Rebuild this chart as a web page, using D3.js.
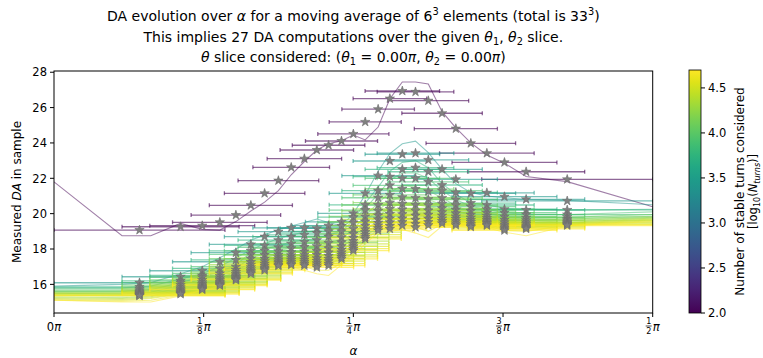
<!DOCTYPE html>
<html>
<head>
<meta charset="utf-8">
<script src="https://cdn.jsdelivr.net/npm/d3@7"></script>
<style>
  body { margin: 0; background: #fff; }
  svg { display: block; }
  text { font-family: "DejaVu Sans", sans-serif; fill: #000; white-space: pre; }
</style>
</head>
<body>
<svg id="chart" width="763" height="358"></svg>
<script>
// Moving-average window centres in alpha (units of pi) and their half widths
const alphaStar = [0.0714,0.1057,0.1238,0.1385,0.1519,0.1644,0.1759,0.1874,0.1981,0.2091,0.2195,0.2293,0.2401,0.25,0.2599,0.2707,0.2805,0.2909,0.3019,0.3126,0.3241,0.3356,0.3481,0.3615,0.3762,0.3943,0.4286];
const alphaHalf = [0.0714,0.0489,0.0438,0.0395,0.0374,0.0347,0.0336,0.0337,0.0320,0.0311,0.0307,0.0303,0.0301,0.0297,0.0301,0.0303,0.0307,0.0311,0.0320,0.0337,0.0336,0.0347,0.0374,0.0395,0.0438,0.0489,0.0714];
// Alpha positions of the raw DA curves (units of pi)
const lineAlpha = [0,0.0568,0.0808,0.1057,0.1238,0.1385,0.1519,0.1644,0.1759,0.1874,0.1981,0.2091,0.2195,0.2293,0.2401,0.25,0.2599,0.2707,0.2805,0.2909,0.3019,0.3126,0.3241,0.3356,0.3481,0.3615,0.3762,0.3943,0.4286,0.5];

// Number of turns of each series
const nTurns = [100, 2750, 5370, 7940, 11200, 14800, 19100, 23400, 28800, 34700, 41700, 50000];

// Averaged DA for each series (one value per window)
const starsN100   = [19.07,19.26,19.32,19.51,19.92,20.47,21.15,21.87,22.62,23.11,23.60,23.87,24.11,24.51,25.19,25.91,26.51,26.94,26.89,26.39,25.68,24.81,23.98,23.42,22.90,22.37,21.94];
const starsN2750  = [16.09,16.43,16.77,17.28,17.79,18.26,18.70,18.98,19.20,19.20,19.17,19.32,19.54,20.02,21.15,22.15,22.98,23.36,23.42,23.04,22.51,21.94,21.15,21.18,20.96,20.81,20.72];
const starsN5370  = [15.85,16.20,16.50,16.90,17.38,17.90,18.20,18.50,18.70,18.80,18.90,19.00,19.30,19.80,20.50,21.30,22.09,22.51,22.60,22.37,21.62,21.20,20.60,20.49,20.25,20.21,20.21];
const starsN7940  = [15.75,16.10,16.40,16.62,17.00,17.70,17.90,18.10,18.30,18.40,18.50,18.70,19.00,19.50,20.20,20.90,21.60,22.00,22.00,21.80,21.30,20.80,20.40,20.25,20.05,19.95,19.95];
const starsN11200 = [15.66,15.96,16.25,16.47,16.83,17.46,17.66,17.87,18.04,18.11,18.16,18.34,18.66,19.15,19.84,20.49,21.06,21.41,21.39,21.26,20.89,20.48,20.15,20.05,19.83,19.77,19.81];
const starsN14800 = [15.59,15.84,16.12,16.34,16.70,17.26,17.46,17.68,17.82,17.86,17.88,18.04,18.38,18.86,19.55,20.16,20.62,20.93,20.89,20.82,20.56,20.22,19.94,19.88,19.65,19.63,19.70];
const starsN19100 = [15.53,15.75,16.02,16.25,16.59,17.11,17.31,17.53,17.65,17.68,17.67,17.81,18.16,18.64,19.32,19.90,20.27,20.56,20.50,20.48,20.30,20.02,19.78,19.75,19.51,19.51,19.62];
const starsN23400 = [15.49,15.67,15.94,16.16,16.50,16.97,17.17,17.41,17.51,17.52,17.48,17.62,17.97,18.45,19.12,19.68,19.98,20.24,20.17,20.18,20.08,19.84,19.64,19.64,19.39,19.42,19.54];
const starsN28800 = [15.45,15.61,15.87,16.10,16.42,16.86,17.06,17.30,17.39,17.38,17.33,17.45,17.81,18.29,18.96,19.49,19.73,19.97,19.89,19.94,19.89,19.70,19.53,19.55,19.29,19.33,19.48];
const starsN34700 = [15.41,15.55,15.81,16.03,16.35,16.76,16.96,17.21,17.28,17.26,17.19,17.31,17.67,18.15,18.81,19.33,19.51,19.73,19.65,19.72,19.73,19.57,19.42,19.47,19.20,19.26,19.42];
const starsN41700 = [15.38,15.50,15.75,15.98,16.29,16.68,16.88,17.12,17.18,17.15,17.07,17.17,17.55,18.02,18.68,19.18,19.31,19.52,19.42,19.52,19.58,19.45,19.33,19.39,19.12,19.20,19.38];
const starsN50000 = [15.35,15.45,15.70,15.93,16.24,16.60,16.80,17.05,17.10,17.06,16.96,17.06,17.44,17.91,18.57,19.05,19.14,19.33,19.23,19.35,19.45,19.35,19.25,19.33,19.05,19.14,19.33];

// Raw DA curves for each series (one value per lineAlpha entry)
const lineN100   = [21.8,18.75,18.75,19.45,19.11,19.07,19.55,20.15,20.65,21.3,22.2,22.95,23.6,23.95,24.12,24.45,24.17,24.9,26.5,27.45,27.45,27.34,25.77,24.85,24.0,23.32,22.85,22.1,21.81,20.39];
const lineN2750  = [15.9,16.0,16.1,16.6,17.0,17.5,18.0,18.5,18.8,19.1,19.3,19.5,19.7,19.5,19.3,20.0,21.05,22.4,23.4,23.95,24.1,23.45,22.5,21.7,21.2,21.0,20.9,20.8,20.75,20.5];
const lineN5370  = [15.8,15.8,15.9,16.3,16.6,17.0,17.5,17.95,18.3,18.6,18.8,18.95,19.05,19.1,19.2,19.7,20.6,21.5,22.4,22.9,23.0,22.6,21.7,21.1,20.6,20.5,20.3,20.25,20.2,20.25];
const lineN7940  = [15.6,15.6,15.7,16.1,16.45,16.7,17.1,17.8,18.0,18.2,18.4,18.5,18.6,18.8,19.0,19.6,20.3,21.1,21.9,22.3,22.3,22.0,21.3,20.8,20.4,20.25,20.05,19.95,19.95,20.1];
const lineN11200 = [15.5,15.45,15.55,15.95,16.3,16.5,16.9,17.5,17.7,17.9,18.05,18.1,18.15,18.3,18.6,19.1,19.9,20.6,21.2,21.6,21.5,21.3,20.9,20.45,20.1,20.05,19.8,19.75,19.8,19.95];
const lineN14800 = [15.4,15.35,15.45,15.8,16.1,16.35,16.7,17.3,17.5,17.7,17.8,17.85,17.8,17.95,18.3,18.8,19.6,20.2,20.7,21.0,20.9,20.8,20.5,20.2,19.9,19.85,19.6,19.6,19.7,19.85];
const lineN19100 = [15.3,15.25,15.35,15.7,16.0,16.25,16.6,17.1,17.35,17.55,17.6,17.65,17.55,17.7,18.1,18.6,19.3,19.9,20.3,20.6,20.5,20.4,20.25,20.0,19.75,19.7,19.45,19.5,19.6,19.8];
const lineN23400 = [15.25,15.2,15.3,15.6,15.9,16.15,16.5,16.95,17.2,17.4,17.45,17.45,17.35,17.5,17.9,18.4,19.1,19.6,19.95,20.2,20.1,20.1,20.0,19.8,19.6,19.6,19.35,19.4,19.5,19.75];
const lineN28800 = [15.2,15.15,15.25,15.5,15.8,16.05,16.4,16.85,17.05,17.3,17.3,17.3,17.15,17.3,17.7,18.2,18.9,19.4,19.65,19.85,19.8,19.8,19.8,19.65,19.5,19.5,19.25,19.3,19.45,19.7];
const lineN34700 = [15.15,15.1,15.2,15.45,15.75,15.95,16.3,16.7,16.95,17.2,17.2,17.15,17.0,17.1,17.5,18.0,18.7,19.25,19.4,19.55,19.5,19.4,19.6,19.5,19.4,19.4,19.15,19.2,19.4,19.65];
const lineN41700 = [15.1,15.05,15.1,15.4,15.7,15.9,16.2,16.6,16.85,17.1,17.1,17.0,16.8,16.8,17.2,17.8,18.5,19.1,19.2,19.35,19.25,19.0,19.4,19.4,19.3,19.3,19.05,19.0,19.35,19.6];
const lineN50000 = [15.1,15.0,15.0,15.35,15.65,15.85,16.15,16.5,16.75,17.0,17.0,16.8,16.6,16.5,17.1,17.6,18.3,18.95,19.0,19.1,18.9,18.65,19.3,19.3,19.2,19.2,18.95,18.75,19.3,19.55];

// Axis ticks
const yTicks = [16, 18, 20, 22, 24, 26, 28];
const xTicks = [[0, null, null], [0.125, 1, 8], [0.25, 1, 4], [0.375, 3, 8], [0.5, 1, 2]];
const cbTicks = [2.0, 2.5, 3.0, 3.5, 4.0, 4.5];

const starSets = [starsN100, starsN2750, starsN5370, starsN7940, starsN11200, starsN14800, starsN19100, starsN23400, starsN28800, starsN34700, starsN41700, starsN50000];
const lineSets = [lineN100, lineN2750, lineN5370, lineN7940, lineN11200, lineN14800, lineN19100, lineN23400, lineN28800, lineN34700, lineN41700, lineN50000];
const series = nTurns.map((n, i) => ({ n, logN: Math.log10(n), stars: starSets[i], line: lineSets[i] }));

const svg = d3.select("#chart");
const plot = { left: 54, right: 652.7, top: 71, bottom: 313 };

const x = d3.scaleLinear().domain([0, 0.5]).range([plot.left, plot.right]);
const y = d3.scaleLinear().domain([14.38, 28.07]).range([plot.bottom, plot.top]);
const cMax = Math.log10(50000);
const color = d3.scaleSequential(d3.interpolateViridis).domain([2, cMax]);

// text with italic / super / subscript pieces
function richText(parent, segs, size) {
  const t = parent.append("text").attr("font-size", size);
  let shift = 0;
  segs.forEach(([s, kind]) => {
    const ts = t.append("tspan").text(s);
    let target = 0, fs = null;
    if (kind === "sup") { target = -0.4 * size; fs = 0.7 * size; }
    if (kind === "sub" || kind === "subit") { target = 0.22 * size; fs = 0.7 * size; }
    if (kind === "it" || kind === "subit") ts.attr("font-style", "italic");
    if (fs) ts.attr("font-size", fs);
    const dy = target - shift;
    if (dy) ts.attr("dy", dy);
    shift = target;
  });
  return t;
}

svg.append("defs").append("clipPath").attr("id", "clip")
  .append("rect").attr("x", plot.left).attr("y", plot.top)
  .attr("width", plot.right - plot.left).attr("height", plot.bottom - plot.top);

const g = svg.append("g").attr("clip-path", "url(#clip)");
const lineGen = d3.line().x((d, i) => x(lineAlpha[i])).y(d => y(d));

// curves and error bars, series by series
series.forEach(s => {
  const c = color(s.logN);
  g.append("path").datum(s.line).attr("d", lineGen)
    .attr("fill", "none").attr("stroke", c).attr("stroke-opacity", 0.5).attr("stroke-width", 1.1);
  const bars = g.append("g").attr("stroke", c).attr("stroke-opacity", 0.6).attr("stroke-width", 1.3);
  s.stars.forEach((v, j) => {
    const x0 = x(alphaStar[j] - alphaHalf[j]), x1 = x(alphaStar[j] + alphaHalf[j]), yy = y(v);
    bars.append("line").attr("x1", x0).attr("x2", x1).attr("y1", yy).attr("y2", yy);
    bars.append("line").attr("x1", x0).attr("x2", x0).attr("y1", yy - 2).attr("y2", yy + 2);
    bars.append("line").attr("x1", x1).attr("x2", x1).attr("y1", yy - 2).attr("y2", yy + 2);
  });
});

// star markers on top
const star = d3.symbol().type(d3.symbolStar).size(27);
series.forEach(s => {
  s.stars.forEach((v, j) => {
    svg.append("path").attr("d", star)
      .attr("transform", `translate(${x(alphaStar[j])},${y(v)})`)
      .attr("fill", "#808080").attr("stroke", "#6b6b6b").attr("stroke-width", 0.6);
  });
});

// frame
svg.append("rect").attr("x", plot.left).attr("y", plot.top)
  .attr("width", plot.right - plot.left).attr("height", plot.bottom - plot.top)
  .attr("fill", "none").attr("stroke", "#000").attr("stroke-width", 1);

// y axis
const yAxis = svg.append("g");
yTicks.forEach(v => {
  const yy = y(v);
  yAxis.append("line").attr("x1", plot.left - 4).attr("x2", plot.left).attr("y1", yy).attr("y2", yy).attr("stroke", "#000");
  yAxis.append("text").attr("x", plot.left - 7).attr("y", yy + 4.2).attr("text-anchor", "end")
    .attr("font-size", 11.5).text(v);
});

// x axis with fraction labels
const xAxis = svg.append("g");
xTicks.forEach(([v, num, den]) => {
  const xx = x(v);
  xAxis.append("line").attr("x1", xx).attr("x2", xx).attr("y1", plot.bottom).attr("y2", plot.bottom + 4).attr("stroke", "#000");
  if (num === null) {
    const t = xAxis.append("text").attr("x", xx).attr("y", 331).attr("text-anchor", "middle").attr("font-size", 11.5);
    t.append("tspan").text("0");
    t.append("tspan").attr("font-style", "italic").text("π");
  } else {
    const fx = xx - 4;
    xAxis.append("text").attr("x", fx).attr("y", 324).attr("text-anchor", "middle").attr("font-size", 8).text(num);
    xAxis.append("line").attr("x1", fx - 3).attr("x2", fx + 3).attr("y1", 326).attr("y2", 326).attr("stroke", "#000").attr("stroke-width", 0.7);
    xAxis.append("text").attr("x", fx).attr("y", 333.5).attr("text-anchor", "middle").attr("font-size", 8).text(den);
    xAxis.append("text").attr("x", fx + 4).attr("y", 331).attr("font-size", 11.5).attr("font-style", "italic").text("π");
  }
});

// axis labels
richText(svg, [["α", "it"]], 12).attr("x", (plot.left + plot.right) / 2).attr("y", 355).attr("text-anchor", "middle");
richText(svg, [["Measured "], ["DA", "it"], [" in sample"]], 12)
  .attr("text-anchor", "middle")
  .attr("transform", `translate(21,${(plot.top + plot.bottom) / 2}) rotate(-90)`);

// title
const cx = (plot.left + plot.right) / 2;
richText(svg, [["DA evolution over "], ["α", "it"], [" for a moving average of 6"], ["3", "sup"], [" elements (total is 33"], ["3", "sup"], [")"]], 14)
  .attr("x", cx).attr("y", 21).attr("text-anchor", "middle");
richText(svg, [["This implies 27 DA computations over the given "], ["θ", "it"], ["1", "sub"], [", "], ["θ", "it"], ["2", "sub"], [" slice."]], 14)
  .attr("x", cx).attr("y", 42).attr("text-anchor", "middle");
richText(svg, [["θ", "it"], [" slice considered: ("], ["θ", "it"], ["1", "sub"], [" = 0.00"], ["π", "it"], [", "], ["θ", "it"], ["2", "sub"], [" = 0.00"], ["π", "it"], [")"]], 14)
  .attr("x", cx).attr("y", 62).attr("text-anchor", "middle");

// colorbar
const cb = { x: 689, w: 12, top: 70, bottom: 313 };
const cy = d3.scaleLinear().domain([2, cMax]).range([cb.bottom, cb.top]);
const grad = svg.select("defs").append("linearGradient").attr("id", "cbgrad")
  .attr("x1", 0).attr("y1", 1).attr("x2", 0).attr("y2", 0);
d3.range(0, 1.0001, 0.05).forEach(t => {
  grad.append("stop").attr("offset", t).attr("stop-color", d3.interpolateViridis(t));
});
svg.append("rect").attr("x", cb.x).attr("y", cb.top).attr("width", cb.w).attr("height", cb.bottom - cb.top)
  .attr("fill", "url(#cbgrad)").attr("stroke", "#000").attr("stroke-width", 0.8);
cbTicks.forEach(v => {
  const yy = cy(v);
  svg.append("line").attr("x1", cb.x + cb.w).attr("x2", cb.x + cb.w + 4).attr("y1", yy).attr("y2", yy).attr("stroke", "#000");
  svg.append("text").attr("x", cb.x + cb.w + 7).attr("y", yy + 4.2).attr("font-size", 11.5).text(v.toFixed(1));
});
const cbMid = (cb.top + cb.bottom) / 2;
richText(svg, [["Number of stable turns considered"]], 12)
  .attr("text-anchor", "middle").attr("transform", `translate(744,${cbMid}) rotate(-90)`);
richText(svg, [["[log"], ["10", "sub"], ["("], ["N", "it"], ["turns", "subit"], [")]"]], 11.5)
  .attr("text-anchor", "middle").attr("transform", `translate(757,${cbMid}) rotate(-90)`);
</script>
</body>
</html>
